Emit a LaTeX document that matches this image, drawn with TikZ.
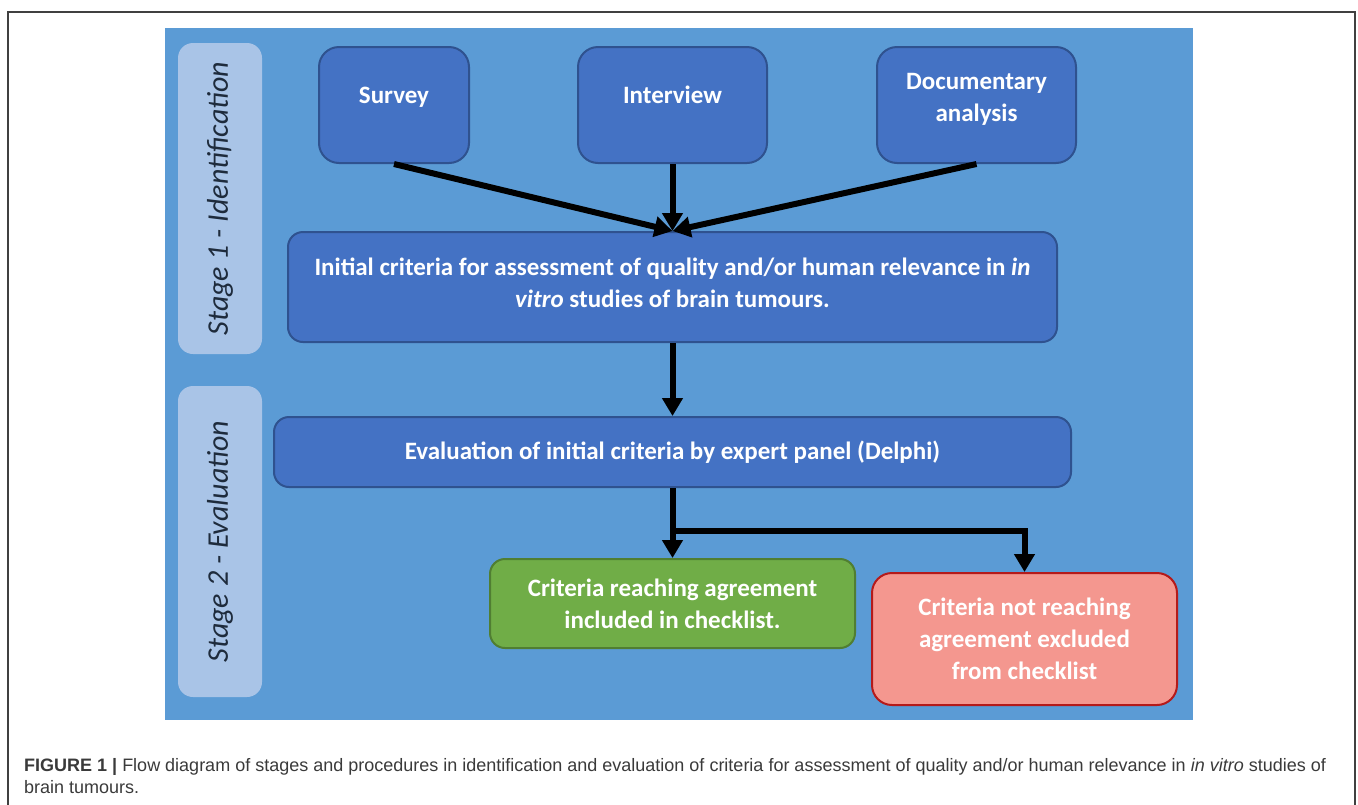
\documentclass[tikz,border=0pt]{standalone}
\usepackage{fontspec}
\setmainfont{Carlito}
\newfontfamily\captionfont{Liberation Sans}
\usetikzlibrary{arrows.meta}
\usetikzlibrary{positioning}

\definecolor{panelblue}{HTML}{5B9BD5}
\definecolor{boxblue}{HTML}{4472C4}
\definecolor{boxedge}{HTML}{2F528F}
\definecolor{stagefill}{HTML}{A9C4E7}
\definecolor{stagetext}{HTML}{1E2B3C}
\definecolor{okgreen}{HTML}{70AD47}
\definecolor{okedge}{HTML}{507E32}
\definecolor{nofill}{HTML}{F4978F}
\definecolor{noedge}{HTML}{B51A1A}
\definecolor{captiongray}{HTML}{3A3A3A}

\tikzset{
  boxfont/.style={font=\fontsize{25}{32}\selectfont\bfseries},
  stepbox/.style={draw=boxedge, fill=boxblue, line width=2pt, rounded corners=15pt,
    text=white, boxfont, align=center, inner sep=0pt},
  sourcebox/.style={stepbox, rounded corners=20pt, minimum height=116pt},
  sourcetext/.style={text=white, align=center, boxfont},
  stagebox/.style={fill=stagefill, rounded corners=15pt, minimum width=84pt, inner sep=0pt,
    text=stagetext, font=\fontsize{30}{34}\selectfont\itshape},
  flow/.style={line width=6pt, -{Triangle[width=20pt,length=18pt]}}
}

\begin{document}
\begin{tikzpicture}[x=1pt,y=-1pt]

    \useasboundingbox (0,0) rectangle (1358,804);
    \draw [black!75, line width=1.2pt] (8,12) rectangle (1355,840);
    \fill [panelblue] (165,28) rectangle (1193,720);

    % Stage labels
    \node [stagebox, minimum height=311pt] (stage1) at (220,198.5) {\rotatebox{90}{Stage 1 - Identification}};
    \node [stagebox, minimum height=311pt] (stage2) at (220,541.5) {\rotatebox{90}{Stage 2 - Evaluation}};

    % Place nodes
    \node [sourcebox, minimum width=150pt, label={[yshift=8pt, sourcetext]center:Survey}] (survey) at (394,105) {};
    \node [sourcebox, minimum width=189pt, label={[yshift=10pt, sourcetext]center:Interview}] (interview) at (672.5,105) {};
    \node [sourcebox, minimum width=199pt, label={[yshift=6pt, sourcetext]center:Documentary\\analysis}] (documentary) at (976.5,105) {};

    \node [stepbox, minimum width=769pt, minimum height=110pt, text depth=8pt] (initial) at (672.5,287)
      {Initial criteria for assessment of quality and/or human relevance in \textit{in}\\
       \textit{vitro} studies of brain tumours.};
    \node [stepbox, minimum width=797pt, minimum height=70pt] (evaluation) at (672.5,452)
      {Evaluation of initial criteria by expert panel (Delphi)};

    \node [stepbox, fill=okgreen, draw=okedge, minimum width=365pt, minimum height=89pt] (included) at (672.5,603.5)
      {Criteria reaching agreement\\included in checklist.};
    \node [stepbox, fill=nofill, draw=noedge, rounded corners=20pt, minimum width=305pt, minimum height=132pt] (excluded) at (1024.5,639)
      {Criteria not reaching\\agreement excluded\\from checklist};

    % Connectors
    \draw [flow] (survey.south) -- (initial.north);
    \draw [flow] (interview.south) -- (initial.north);
    \draw [flow] (documentary.south) -- (initial.north);
    \draw [flow] (initial.south) -- (evaluation.north);
    \draw [flow] (evaluation.south) -- (included.north);
    \coordinate (split) at ([yshift=-43pt]evaluation.south);
    \draw [flow] (split) -| (excluded.north);

    % Caption
    \node [anchor=north west, align=left, inner sep=0pt, text=captiongray,
      font=\captionfont\fontsize{18}{22}\selectfont] (caption) at (24,758)
      {\textbf{FIGURE 1 |} Flow diagram of stages and procedures in identification and evaluation of criteria for assessment of quality and/or human relevance in \textit{in vitro} studies of\\
       brain tumours.};

\end{tikzpicture}
\end{document}
